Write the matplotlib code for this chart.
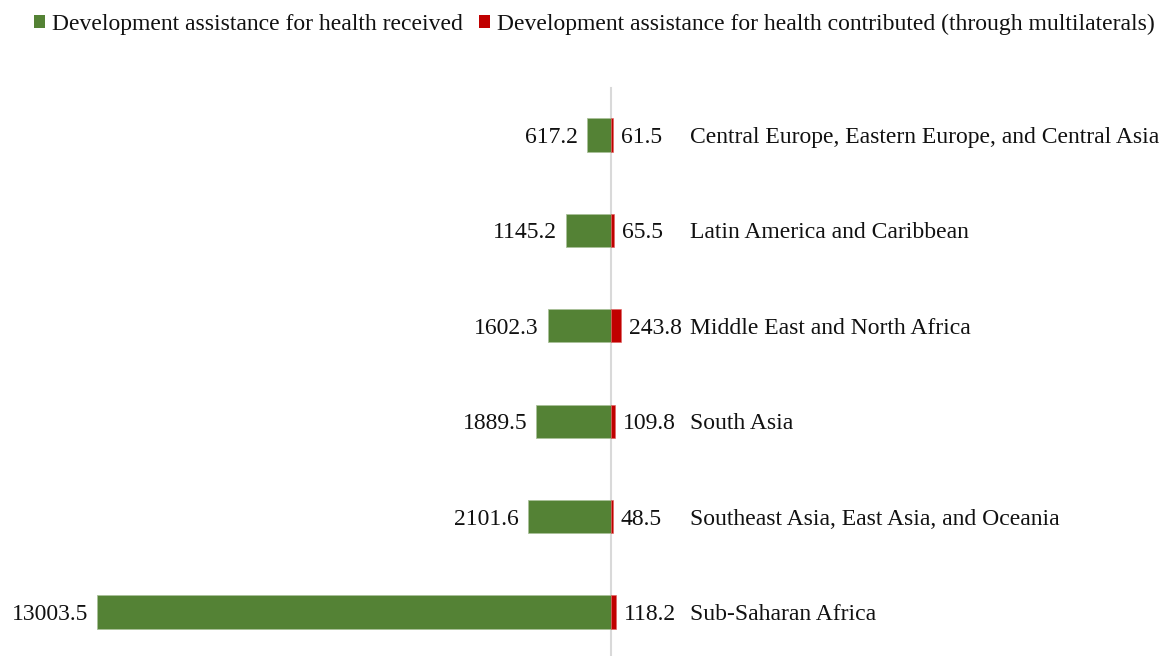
import matplotlib
matplotlib.use("Agg")
import matplotlib.pyplot as plt
from matplotlib.patches import Patch

regions = ["Central Europe, Eastern Europe, and Central Asia",
           "Latin America and Caribbean",
           "Middle East and North Africa",
           "South Asia",
           "Southeast Asia, East Asia, and Oceania",
           "Sub-Saharan Africa"]
received = [617.2, 1145.2, 1602.3, 1889.5, 2101.6, 13003.5]
contributed = [61.5, 65.5, 243.8, 109.8, 48.5, 118.2]
legend_labels = ["Development assistance for health received",
                 "Development assistance for health contributed (through multilaterals)"]

GREEN = "#548235"
RED = "#C00000"
FS = 17
TXT = "#111111"
plt.rcParams['font.family'] = ['Liberation Serif', 'DejaVu Serif']

W, H = 1165, 656
fig = plt.figure(figsize=(W/100, H/100), dpi=100)
ax = fig.add_axes([0, 0, 1, 1])

cx = 611.0
ppu = 514.0 / 13003.5
ax.set_xlim(-cx/ppu, (W-cx)/ppu)
y0, dy = 135.0, 95.4
ax.set_ylim((H-y0)/dy, -y0/dy)
ax.axis('off')

ys = list(range(len(regions)))
ax.plot([0, 0], [(88-y0)/dy, (H-y0)/dy], color="#d9d9d9", lw=1.5, zorder=0)
ax.barh(ys, [-v for v in received], height=0.35, color=GREEN,
        edgecolor="#a9c19a", linewidth=0.6, zorder=2)
ax.barh(ys, contributed, height=0.35, color=RED, edgecolor="#e06060",
        linewidth=0.4, zorder=2)

gap = 9 / ppu
name_x = (690 - cx) / ppu
for y, r, c, name in zip(ys, received, contributed, regions):
    ax.text(-r - gap, y, f"{r:.1f}", ha='right', va='center_baseline', fontsize=FS, color=TXT)
    ax.text(c + 8/ppu, y, f"{c:.1f}", ha='left', va='center_baseline', fontsize=FS, color=TXT)
    ax.text(name_x, y, name, ha='left', va='center_baseline', fontsize=FS, color=TXT)

handles = [Patch(facecolor=GREEN), Patch(facecolor=RED)]
fig.legend(handles, legend_labels, loc='center left', bbox_to_anchor=(34/W, 1-24/H),
           ncol=2, frameon=False, fontsize=FS, handlelength=0.45, handleheight=0.45,
           handletextpad=0.3, columnspacing=0.7, borderpad=0, borderaxespad=0,
           labelcolor=TXT)

fig.savefig("out.png", dpi=100)
